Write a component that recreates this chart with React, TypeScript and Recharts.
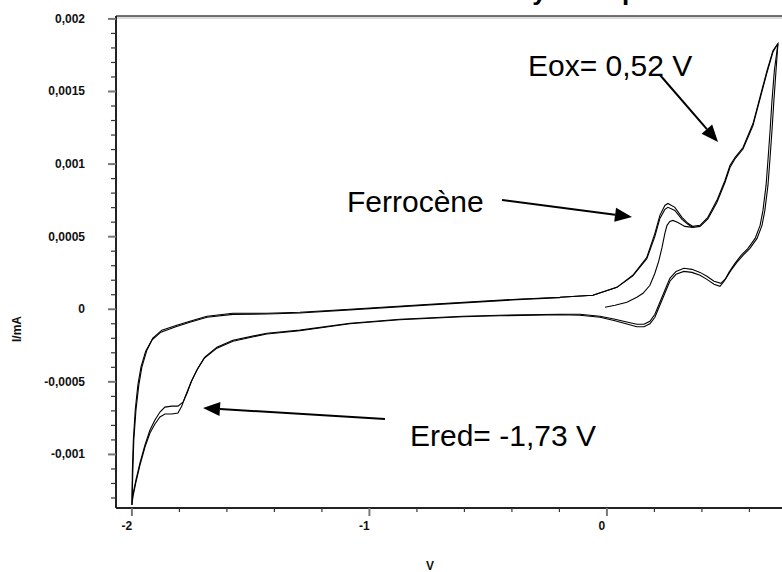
import React from 'react';
import { LineChart, Line, XAxis, YAxis, ReferenceLine, ReferenceArea } from 'recharts';

// cycle 1 (outer loop), potential in V and current in mA
const cycle1V = [
  -0.198, -0.059, 0.042, 0.109, 0.168, 0.202, 0.223, 0.244, 0.257, 0.286, 0.316, 0.341, 0.362, 0.392, 0.425,
  0.463, 0.497, 0.518, 0.539, 0.573, 0.615, 0.644, 0.674, 0.699, 0.72,
  0.712, 0.703, 0.695, 0.686, 0.678, 0.665, 0.653, 0.632, 0.602, 0.573, 0.547, 0.522, 0.501, 0.48, 0.451,
  0.421, 0.392, 0.358, 0.324, 0.291, 0.265, 0.244, 0.223, 0.202, 0.181, 0.156, 0.126, 0.088, 0.034, -0.029,
  -0.114, -0.198, -0.451, -0.606, -0.872, -1.082, -1.293, -1.432, -1.575, -1.642, -1.693, -1.722, -1.747,
  -1.768, -1.785, -1.806, -1.832, -1.861, -1.882, -1.903, -1.924, -1.945, -1.966, -1.983, -1.996, -2.0,
  -1.996, -1.992, -1.983, -1.971, -1.958, -1.937, -1.912, -1.874, -1.811, -1.756, -1.684, -1.575, -1.432,
  -1.293, -1.082, -0.745, -0.379, -0.198,
];
const cycle1I = [
  0.000083, 0.000096, 0.000151, 0.000234, 0.000358, 0.000523, 0.000647, 0.000715, 0.000729, 0.000702, 0.000633,
  0.000592, 0.000571, 0.000578, 0.000633, 0.00075, 0.000887, 0.00099, 0.001045, 0.001114, 0.001279, 0.001458,
  0.001644, 0.001781, 0.00183,
  0.001644, 0.001437, 0.001231, 0.001025, 0.000853, 0.000681, 0.000578, 0.000488, 0.00042, 0.000371, 0.000323,
  0.000268, 0.000213, 0.000179, 0.000193, 0.000227, 0.000254, 0.000275, 0.000282, 0.000261, 0.000213, 0.000131,
  0.000048, -0.000034, -0.000083, -0.000103, -0.000103, -0.000089, -0.000069, -0.000048, -0.000034, -0.000034,
  -0.000041, -0.000048, -0.000069, -0.000096, -0.000144, -0.000165, -0.000213, -0.000261, -0.00033, -0.000406,
  -0.000488, -0.000578, -0.00064, -0.000667, -0.000667, -0.000674, -0.000708, -0.000763, -0.000832, -0.000935,
  -0.001059, -0.001176, -0.001279, -0.001348,
  -0.001107, -0.000901, -0.000695, -0.000523, -0.000399, -0.000282, -0.000199, -0.000144, -0.00011, -0.000083,
  -0.000048, -0.000028, -0.000028, -0.000021, 0.0, 0.000034, 0.000069, 0.000083,
];

// cycle 2, nearly on top of cycle 1
const cycle2V = [
  -0.198, -0.059, 0.042, 0.109, 0.168, 0.202, 0.223, 0.244, 0.257, 0.286, 0.316, 0.341, 0.362, 0.392, 0.425,
  0.463, 0.497, 0.518, 0.539, 0.573, 0.615, 0.644, 0.674, 0.699, 0.72,
  0.705, 0.695, 0.687, 0.678, 0.67, 0.657, 0.645, 0.624, 0.594, 0.565, 0.539, 0.514, 0.495, 0.476, 0.451,
  0.421, 0.392, 0.358, 0.324, 0.291, 0.265, 0.244, 0.223, 0.202, 0.181, 0.156, 0.126, 0.088, 0.034, -0.029,
  -0.114, -0.198, -0.451, -0.606, -0.872, -1.082, -1.293, -1.432, -1.575, -1.642, -1.697, -1.727, -1.752,
  -1.774, -1.79, -1.806, -1.832, -1.861, -1.882, -1.903, -1.924, -1.945, -1.966, -1.983, -1.996, -2.0,
  -1.998, -1.994, -1.986, -1.975, -1.962, -1.942, -1.916, -1.878, -1.815, -1.756, -1.684, -1.575, -1.432,
  -1.293, -1.082, -0.745, -0.379, -0.198,
];
const cycle2I = [
  0.000083, 0.000096, 0.000151, 0.00023, 0.000348, 0.000502, 0.000626, 0.000688, 0.000702, 0.000681, 0.000619,
  0.000585, 0.000564, 0.000571, 0.000622, 0.000736, 0.000873, 0.000976, 0.001035, 0.001104, 0.001265, 0.001445,
  0.00163, 0.001772, 0.00183,
  0.001644, 0.001437, 0.001231, 0.001025, 0.000853, 0.000681, 0.000578, 0.000488, 0.00042, 0.000371, 0.000316,
  0.000254, 0.000196, 0.000158, 0.000172, 0.000206, 0.000234, 0.000254, 0.000261, 0.000241, 0.000193, 0.00011,
  0.000028, -0.000055, -0.0001, -0.000121, -0.000121, -0.000103, -0.000079, -0.000055, -0.000041, -0.000038,
  -0.000045, -0.000052, -0.000072, -0.0001, -0.000148, -0.00017, -0.00022, -0.000268, -0.00034, -0.00042,
  -0.000505, -0.000596, -0.000667, -0.000715, -0.000722, -0.000722, -0.000742, -0.00079, -0.000853, -0.00095,
  -0.001073, -0.00119, -0.001293, -0.001348,
  -0.001107, -0.000901, -0.000695, -0.000523, -0.000399, -0.000289, -0.000213, -0.000158, -0.00012, -0.00009,
  -0.000055, -0.000035, -0.000033, -0.000026, -0.000004, 0.00003, 0.000066, 0.00008,
];

// first anodic sweep starting from rest potential
const startV = [-0.008, 0.034, 0.084, 0.126, 0.152, 0.181, 0.202, 0.219, 0.232, 0.244, 0.253, 0.265, 0.278, 0.299, 0.328, 0.362];
const startI = [
  0.000014, 0.000028, 0.000048, 0.000083, 0.00011, 0.000165, 0.000248, 0.000337, 0.000426, 0.000523, 0.000578,
  0.000605, 0.000612, 0.000598, 0.000571, 0.000564,
];

const xMajor = [-2, -1, 0];
const xMinor = [-1.8, -1.6, -1.4, -1.2, -0.8, -0.6, -0.4, -0.2, 0.2, 0.4, 0.6];
const yMajor = [-0.001, -0.0005, 0, 0.0005, 0.001, 0.0015, 0.002];
const yMinor = [
  -0.0013, -0.0012, -0.0011, -0.0009, -0.0008, -0.0007, -0.0006, -0.0004, -0.0003, -0.0002, -0.0001,
  0.0001, 0.0002, 0.0003, 0.0004, 0.0006, 0.0007, 0.0008, 0.0009, 0.0011, 0.0012, 0.0013, 0.0014,
  0.0016, 0.0017, 0.0018, 0.0019,
];

const X_MIN = -2.067;
const X_MAX = 0.754;
const Y_MIN = -0.001369;
const Y_MAX = 0.00202;

const PLOT_LEFT = 116;
const PLOT_BOTTOM = 508;
const FONT = 'Arial, "Liberation Sans", sans-serif';

const toRows = (vs: number[], is: number[]) => vs.map((v, k) => ({ v, i: is[k] }));
const isIn = (list: number[], val: number) => list.some((m) => Math.abs(m - val) < 1e-9);
const fmt = (val: number) => String(val).replace('.', ',');

const YTick = (props: any) => {
  const { y, payload } = props;
  const major = isIn(yMajor, payload.value);
  return (
    <g>
      <line x1={PLOT_LEFT - (major ? 8 : 5)} x2={PLOT_LEFT} y1={y} y2={y} stroke={major ? '#777' : '#333'} strokeWidth={major ? 2 : 1.2} />
      {major && (
        <text x={85} y={y} dy={4} textAnchor="end" fontFamily={FONT} fontWeight="bold" fontSize={12} fill="#111">
          {fmt(payload.value)}
        </text>
      )}
    </g>
  );
};

const XTick = (props: any) => {
  const { x, payload } = props;
  const major = isIn(xMajor, payload.value);
  return (
    <g>
      <line x1={x} x2={x} y1={PLOT_BOTTOM} y2={PLOT_BOTTOM + (major ? 8 : 4)} stroke={major ? '#777' : '#333'} strokeWidth={major ? 2 : 1.2} />
      {major && (
        <text x={x - 5} y={530} textAnchor="middle" fontFamily={FONT} fontWeight="bold" fontSize={12} fill="#111">
          {fmt(payload.value)}
        </text>
      )}
    </g>
  );
};

const Arrow = ({ x1, y1, x2, y2 }: { x1: number; y1: number; x2: number; y2: number }) => {
  const len = Math.hypot(x2 - x1, y2 - y1);
  const ux = (x2 - x1) / len;
  const uy = (y2 - y1) / len;
  const bx = x2 - ux * 17;
  const by = y2 - uy * 17;
  const head = `${x2},${y2} ${bx - uy * 7},${by + ux * 7} ${bx + uy * 7},${by - ux * 7}`;
  return (
    <g>
      <line x1={x1} y1={y1} x2={bx} y2={by} stroke="#000" strokeWidth={2} />
      <polygon points={head} fill="#000" />
    </g>
  );
};

export default function App() {
  const xTicks = [...xMajor, ...xMinor].sort((a, b) => a - b);
  const yTicks = [...yMajor, ...yMinor].sort((a, b) => a - b);
  return (
    <div style={{ position: 'absolute', left: 0, top: 0, width: 782, height: 572, overflow: 'hidden', background: '#fff' }}>
      <LineChart width={800} height={572} margin={{ top: 16, right: 14, bottom: 34, left: 56 }}>
        <XAxis
          dataKey="v"
          type="number"
          domain={[X_MIN, X_MAX]}
          ticks={xTicks}
          interval={0}
          allowDataOverflow
          height={30}
          tickLine={false}
          axisLine={{ stroke: '#222', strokeWidth: 2 }}
          tick={<XTick />}
        />
        <YAxis
          type="number"
          domain={[Y_MIN, Y_MAX]}
          ticks={yTicks}
          interval={0}
          allowDataOverflow
          width={60}
          tickLine={false}
          axisLine={{ stroke: '#222', strokeWidth: 2 }}
          tick={<YTick />}
        />
        <ReferenceArea y1={Y_MAX - 0.00002} y2={Y_MAX} fill="#ddd" fillOpacity={1} stroke="none" ifOverflow="hidden" />
        <ReferenceLine y={Y_MAX} stroke="#444" strokeWidth={1.5} />
        <Line data={toRows(cycle1V, cycle1I)} dataKey="i" type="linear" stroke="#000" strokeWidth={1.1} dot={false} isAnimationActive={false} />
        <Line data={toRows(cycle2V, cycle2I)} dataKey="i" type="linear" stroke="#000" strokeWidth={1.1} dot={false} isAnimationActive={false} />
        <Line data={toRows(startV, startI)} dataKey="i" type="linear" stroke="#000" strokeWidth={1.1} dot={false} isAnimationActive={false} />
      </LineChart>
      <svg width={782} height={572} style={{ position: 'absolute', left: 0, top: 0, pointerEvents: 'none' }}>
        <text x={476} y={0} fontFamily={FONT} fontWeight="bold" fontSize={26} fill="#000">Analyse du produit</text>
        <text x={17} y={329} transform="rotate(-90 17 329)" dy={4} textAnchor="middle" fontFamily={FONT} fontWeight="bold" fontSize={12} fill="#111">I/mA</text>
        <text x={430} y={570} textAnchor="middle" fontFamily={FONT} fontWeight="bold" fontSize={12} fill="#111">V</text>
        <text x={528} y={76} fontFamily={FONT} fontSize={30} fill="#000">Eox= 0,52 V</text>
        <text x={347} y={212} fontFamily={FONT} fontSize={30} fill="#000">Ferrocène</text>
        <text x={410} y={446} fontFamily={FONT} fontSize={30} fill="#000">Ered= -1,73 V</text>
        <Arrow x1={660} y1={75} x2={718} y2={142} />
        <Arrow x1={502} y1={200} x2={632} y2={217} />
        <Arrow x1={385} y1={419} x2={203} y2={408} />
      </svg>
    </div>
  );
}
